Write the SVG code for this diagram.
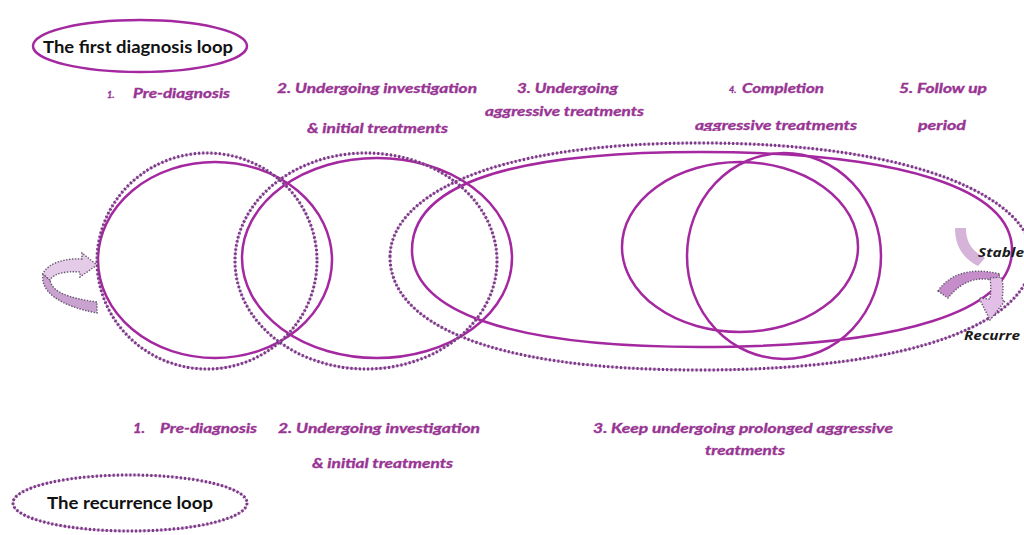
<svg xmlns="http://www.w3.org/2000/svg" xmlns:xlink="http://www.w3.org/1999/xlink" width="1024" height="535" viewBox="0 0 1024 535">
  <style>
    .solid { fill: none; stroke: #A4289F; stroke-width: 2.5; }
    .dotbase { fill: none; stroke: #C66FC6; stroke-width: 1.2; opacity: 0.75; }
    .dot { fill: none; stroke: #763C84; stroke-width: 3; stroke-dasharray: 2.2 2; }
    .lbl { font-family: Lato, "Liberation Sans", sans-serif; font-weight: 700; font-style: italic; font-size: 13.5px; fill: #983493; stroke: #983493; stroke-width: 0.35; }
    .num { font-size: 9px; }
    .title { font-family: Lato, "Liberation Sans", sans-serif; font-weight: 700; font-size: 17px; fill: #111; }
    .tag { font-family: "Open Sans", "Liberation Sans", sans-serif; font-weight: 700; font-style: italic; font-size: 12px; fill: #1a1a1a; }
    .ribbon { stroke: #64546F; stroke-width: 1.4; stroke-dasharray: 1.4 1.5; }
  </style>
  <defs>
    <ellipse id="d1" cx="207" cy="261" rx="110" ry="108"/>
    <ellipse id="d2" cx="366" cy="261" rx="131" ry="108"/>
    <path id="d3" d="M 390 257 C 390 200 480 143 700 143 C 920 143 1032 200 1032 257 C 1032 320 920 370 700 370 C 480 370 390 320 390 257 Z"/>
    <ellipse id="d4" cx="130" cy="503" rx="117" ry="28"/>
    <clipPath id="cut-desc"><rect x="680" y="110" width="200" height="21"/></clipPath>
  </defs>

  <rect width="1024" height="535" fill="#ffffff"/>

  <!-- legend: first diagnosis loop -->
  <g id="legend-first">
    <ellipse class="solid" cx="140" cy="46" rx="107" ry="26"/>
    <text class="title" x="43" y="53" textLength="190" lengthAdjust="spacingAndGlyphs">The first diagnosis loop</text>
  </g>

  <!-- legend: recurrence loop -->
  <g id="legend-recurrence">
    <use href="#d4" class="dotbase"/>
    <use href="#d4" class="dot"/>
    <text class="title" x="47" y="509" textLength="166" lengthAdjust="spacingAndGlyphs">The recurrence loop</text>
  </g>

  <!-- first loop stages (solid) -->
  <g id="stage1-first">
    <ellipse class="solid" cx="215" cy="260" rx="117" ry="98"/>
  </g>
  <g id="stage2-first">
    <ellipse class="solid" cx="377" cy="258" rx="135" ry="100"/>
  </g>
  <g id="stage3-first">
    <path class="solid" d="M 412 250 C 412 190 495 152 700 152 C 905 152 1012 190 1012 250 C 1012 310 905 347 700 347 C 505 347 412 310 412 250 Z"/>
  </g>
  <g id="stage4-first">
    <ellipse class="solid" cx="740" cy="247" rx="118" ry="85"/>
  </g>
  <g id="stage5-first">
    <ellipse class="solid" cx="784" cy="256" rx="97" ry="103"/>
  </g>

  <!-- recurrence loop stages (dotted) -->
  <g id="stage1-recurrence">
    <use href="#d1" class="dotbase"/>
    <use href="#d1" class="dot"/>
  </g>
  <g id="stage2-recurrence">
    <use href="#d2" class="dotbase"/>
    <use href="#d2" class="dot"/>
  </g>
  <g id="stage3-recurrence">
    <use href="#d3" class="dotbase"/>
    <use href="#d3" class="dot"/>
  </g>

  <!-- stage labels, first loop -->
  <g id="labels-first">
    <text class="lbl num" x="107" y="98">1.</text>
    <text class="lbl" x="133" y="98" textLength="97" lengthAdjust="spacingAndGlyphs">Pre-diagnosis</text>
    <text class="lbl" x="277" y="93" textLength="200" lengthAdjust="spacingAndGlyphs">2. Undergoing investigation</text>
    <text class="lbl" x="307" y="133" textLength="141" lengthAdjust="spacingAndGlyphs">&amp; initial treatments</text>
    <text class="lbl" x="517" y="93" textLength="101" lengthAdjust="spacingAndGlyphs">3. Undergoing</text>
    <text class="lbl" x="485" y="116" textLength="159" lengthAdjust="spacingAndGlyphs">aggressive treatments</text>
    <text class="lbl num" x="729" y="93">4.</text>
    <text class="lbl" x="742" y="93" textLength="82" lengthAdjust="spacingAndGlyphs">Completion</text>
    <text class="lbl" x="695" y="130" textLength="162" lengthAdjust="spacingAndGlyphs" clip-path="url(#cut-desc)">aggressive treatments</text>
    <text class="lbl" x="899" y="93" textLength="88" lengthAdjust="spacingAndGlyphs">5. Follow up</text>
    <text class="lbl" x="918" y="130" textLength="48" lengthAdjust="spacingAndGlyphs">period</text>
  </g>

  <!-- stage labels, recurrence loop -->
  <g id="labels-recurrence">
    <text class="lbl" x="133" y="433" textLength="12" lengthAdjust="spacingAndGlyphs">1.</text>
    <text class="lbl" x="160" y="433" textLength="97" lengthAdjust="spacingAndGlyphs">Pre-diagnosis</text>
    <text class="lbl" x="278" y="433" textLength="202" lengthAdjust="spacingAndGlyphs">2. Undergoing investigation</text>
    <text class="lbl" x="312" y="468" textLength="141" lengthAdjust="spacingAndGlyphs">&amp; initial treatments</text>
    <text class="lbl" x="593" y="433" textLength="300" lengthAdjust="spacingAndGlyphs">3. Keep undergoing prolonged aggressive</text>
    <text class="lbl" x="705" y="455" textLength="80" lengthAdjust="spacingAndGlyphs">treatments</text>
  </g>

  <!-- connectors: loop arrows -->
  <g id="connectors">
    <!-- re-entry arrow on the left -->
    <path class="ribbon" fill="#C9A2CF" d="M 43 274 C 40 292 60 306 97 313 L 97 302 C 68 298 52 292 50 280 Z"/>
    <path class="ribbon" fill="#E4CBE8" d="M 82 259 C 68 258 48 262 43 274 L 50 280 C 54 273 66 271 80 272 L 80 277 L 97 265 L 82 253 Z"/>
    <!-- stable / recurre split on the right -->
    <path fill="#D6B4DA" d="M 955 228 L 966 228 C 966 240 970 250 985 258 L 978 266 C 962 258 955 245 955 228 Z"/>
    <path class="ribbon" fill="#C58DC9" d="M 938 291 C 948 276 968 266 1000 274 L 996 281 C 975 275 960 283 948 298 Z"/>
    <path class="ribbon" fill="#E3BEE6" d="M 990 278 L 1001 277 C 1004 285 1003 292 1002 300 L 1005 301 L 990 320 L 979 298 L 990 299 C 991 292 991 285 990 278 Z"/>
    <text class="tag" x="978" y="257" textLength="46" lengthAdjust="spacingAndGlyphs">Stable</text>
    <text class="tag" x="964" y="340" textLength="56" lengthAdjust="spacingAndGlyphs">Recurre</text>
  </g>
</svg>
